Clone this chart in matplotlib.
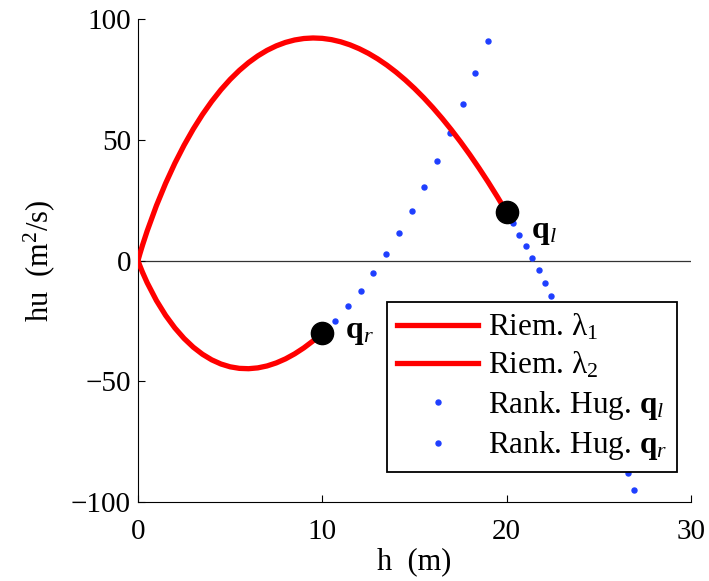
import numpy as np
import matplotlib.pyplot as plt

plt.rcParams['font.family'] = ['Liberation Serif', 'DejaVu Serif']
plt.rcParams['mathtext.fontset'] = 'custom'
plt.rcParams['mathtext.rm'] = 'Liberation Serif'
plt.rcParams['mathtext.it'] = 'Liberation Serif:italic'
plt.rcParams['mathtext.bf'] = 'Liberation Serif:bold'

# states on either side of the jump
h_l, hu_l = 20.0, 20.0
h_r, hu_r = 10.0, -30.0

# integral curve through q_l (1-wave)
h_int1 = [0, 0.1, 0.25, 0.5, 1, 1.5, 2, 2.5, 3, 3.5, 4, 4.5, 5, 5.5, 6, 6.5, 7, 7.5, 8,
          8.5, 9, 9.5, 10, 10.5, 11, 11.5, 12, 12.5, 13, 13.5, 14, 14.5, 15, 15.5, 16,
          16.5, 17, 17.5, 18, 18.5, 19, 19.5, 20]
hu_int1 = [0, 2.70, 6.47, 12.29, 22.75, 32.01, 40.31, 47.77, 54.49, 60.53, 65.94, 70.77,
           75.04, 78.78, 82.02, 84.78, 87.08, 88.94, 90.37, 91.38, 91.99, 92.21, 92.05,
           91.52, 90.62, 89.37, 87.77, 85.84, 83.57, 80.98, 78.06, 74.83, 71.30, 67.46,
           63.32, 58.89, 54.17, 49.16, 43.88, 38.31, 32.48, 26.37, 20.0]

# integral curve through q_r (2-wave)
h_int2 = [0, 0.1, 0.25, 0.5, 1, 1.5, 2, 2.5, 3, 3.5, 4, 4.5, 5, 5.5, 6, 6.5, 7, 7.5, 8,
          8.5, 9, 9.5, 10]
hu_int2 = [0, -2.08, -4.92, -9.19, -16.54, -22.71, -27.90, -32.26, -35.88, -38.81, -41.12,
           -42.84, -44.01, -44.65, -44.79, -44.45, -43.65, -42.40, -40.73, -38.64, -36.15,
           -33.26, -30.0]

# Hugoniot locus through q_l
h_hug_l = [20.0, 20.346, 20.692, 21.038, 21.385, 21.731, 22.077, 22.423, 22.769, 23.115,
           23.462, 23.808, 24.154, 24.500, 24.846, 25.192, 25.538, 25.885, 26.231,
           26.577, 26.923]
hu_hug_l = [20.0, 15.43, 10.74, 5.93, 0.99, -4.08, -9.27, -14.59, -20.03, -25.59, -31.28,
            -37.09, -43.02, -49.08, -55.27, -61.57, -68.00, -74.55, -81.22, -88.02, -94.94]

# Hugoniot locus through q_r
h_hug_r = [10.0, 10.692, 11.385, 12.077, 12.769, 13.462, 14.154, 14.846, 15.538, 16.231,
           16.923, 17.615, 18.308, 19.0]
hu_hug_r = [-30.0, -24.87, -19.02, -12.48, -5.24, 2.70, 11.33, 20.65, 30.65, 41.35, 52.73,
            64.79, 77.53, 90.94]

fig = plt.figure(figsize=(7.09, 5.81), dpi=100)
ax = fig.add_axes([0.1946, 0.136, 0.78, 0.831])

red = '#ff0000'
blue = '#1f3fff'
ax.plot([0, 30], [0, 0], color='#333333', lw=0.9, zorder=1)
ax.plot(h_int1, hu_int1, color=red, lw=3.8, label='Riem. λ$_1$', zorder=3)
ax.plot(h_int2, hu_int2, color=red, lw=3.8, label='Riem. λ$_2$', zorder=3)
ax.plot(h_hug_l, hu_hug_l, ls='none', marker='o', ms=3.6, color=blue,
        label=r'Rank. Hug. $\mathbf{q}_l$', zorder=2)
ax.plot(h_hug_r, hu_hug_r, ls='none', marker='o', ms=3.6, color=blue,
        label=r'Rank. Hug. $\mathbf{q}_r$', zorder=2)
ax.plot([h_l, h_r], [hu_l, hu_r], ls='none', marker='o', ms=16, color='black', zorder=4)

ax.text(21.3, 9.3, r'$\mathbf{q}_l$', fontsize=23)
ax.text(11.25, -32.1, r'$\mathbf{q}_r$', fontsize=23)

ax.set_xlim(0, 30)
ax.set_ylim(-100, 100)
ax.set_xticks([0, 10, 20, 30])
ax.set_yticks([-100, -50, 0, 50, 100])
ax.spines['top'].set_visible(False)
ax.spines['right'].set_visible(False)
ax.tick_params(direction='in', length=5, labelsize=21)
ax.tick_params(axis='x', pad=12)
ax.tick_params(axis='y', pad=5)
ax.set_xlabel('h  (m)', fontsize=22, labelpad=2)
ax.set_ylabel(r'hu  (m$^2$/s)', fontsize=22, labelpad=10)

leg = ax.legend(loc='upper left', bbox_to_anchor=(387 / 709, 1 - 302 / 581),
                bbox_transform=fig.transFigure, fontsize=22.5,
                numpoints=1, fancybox=False, framealpha=1, edgecolor='black',
                handlelength=2.6, handletextpad=0.3, labelspacing=0.25,
                borderaxespad=0, borderpad=0.32)
leg.get_frame().set_linewidth(1.3)

fig.savefig('out.png', dpi=100)
